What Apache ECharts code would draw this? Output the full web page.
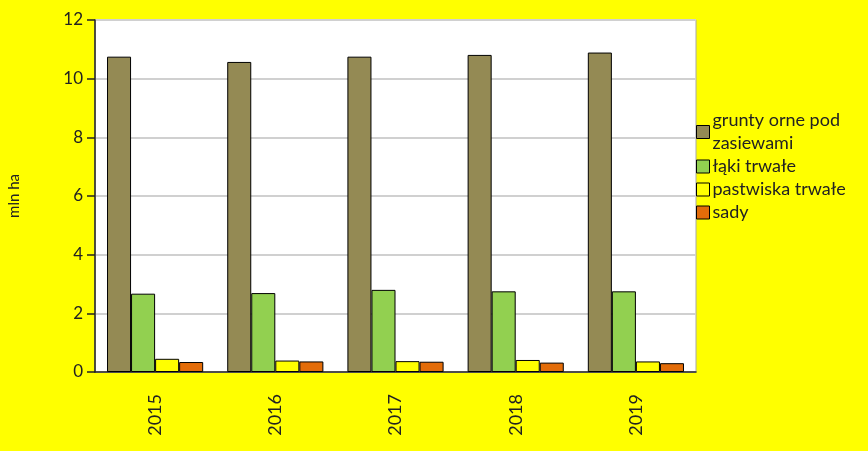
<!DOCTYPE html>
<html><head><meta charset="utf-8">
<script src="https://cdn.jsdelivr.net/npm/echarts@6/dist/echarts.min.js"></script>
<style>html,body{margin:0;padding:0;background:#ffff00}#c{width:868px;height:451px}</style>
</head><body><div id="c"></div>
<script>
const years = ['2015','2016','2017','2018','2019'];
const seriesNames = ['grunty orne pod\nzasiewami','łąki trwałe','pastwiska trwałe','sady'];
const grunty = [10.75, 10.57, 10.75, 10.81, 10.89];
const laki = [2.67, 2.69, 2.80, 2.75, 2.75];
const pastwiska = [0.45, 0.39, 0.37, 0.41, 0.36];
const sady = [0.34, 0.36, 0.35, 0.32, 0.30];
const yTicks = [0, 2, 4, 6, 8, 10, 12];

const colors = ['#948A54','#92D050','#FFFF00','#E36C09'];
const data = [grunty, laki, pastwiska, sady];
const font = 'Lato, "Open Sans", sans-serif';
const chart = echarts.init(document.getElementById('c'));
chart.setOption({
  backgroundColor: '#ffff00',
  animation: false,
  textStyle: {fontFamily: font},
  grid: {left: 95, right: 172, top: 20, bottom: 79, outerBoundsMode: 'none', containLabel: false,
         show: true, backgroundColor: '#ffffff', borderColor: '#a8a8a8', borderWidth: 1},
  legend: {
    orient: 'vertical', left: 696, top: 109, padding: 0, itemWidth: 13, itemHeight: 13, itemGap: 0,
    icon: 'rect',
    textStyle: {fontFamily: font, fontSize: 18, color: '#222', lineHeight: 23, padding: [0,0,0,-2]},
    data: seriesNames.map((n,i)=>({name:n, itemStyle:{color:colors[i], borderColor:'#000', borderWidth:1}}))
  },
  xAxis: {
    type: 'category', data: years,
    axisLine: {lineStyle: {color: '#222', width: 1.5}},
    axisTick: {show: false},
    axisLabel: {rotate: 90, fontSize: 18, color: '#222', margin: 22, fontFamily: font}
  },
  yAxis: {
    type: 'value', min: yTicks[0], max: yTicks[yTicks.length-1], interval: 2,
    name: 'mln ha', nameLocation: 'middle', nameGap: 73, nameRotate: 90,
    nameTextStyle: {fontSize: 15, color: '#222', fontFamily: font},
    axisLine: {show: true, lineStyle: {color: '#222', width: 1.5}},
    axisTick: {show: true, inside: false, length: 8, lineStyle: {color: '#222', width: 1.5}},
    axisLabel: {fontSize: 17, color: '#222', margin: 12, fontFamily: font},
    splitLine: {lineStyle: {color: '#d0d0d0', width: 2}}
  },
  series: data.map((d,i)=>({
    name: seriesNames[i], type: 'bar', data: d,
    barGap: '0%', barCategoryGap: '20%',
    itemStyle: {color: colors[i], borderColor: '#000', borderWidth: 1}
  }))
});
</script></body></html>
